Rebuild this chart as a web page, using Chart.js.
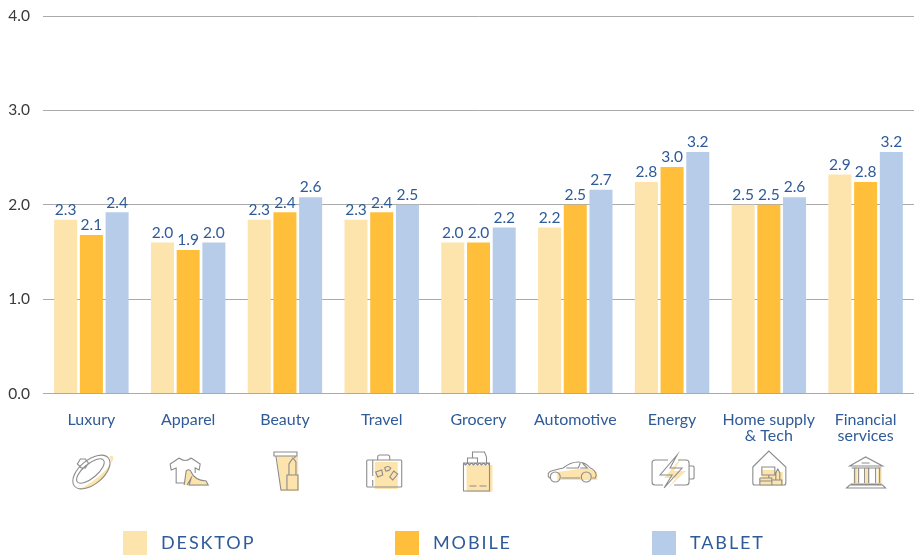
<!DOCTYPE html>
<html>
<head>
<meta charset="utf-8">
<style>
  html, body { margin: 0; padding: 0; background: #fff; }
  canvas { display: block; }
</style>
<script src="https://cdn.jsdelivr.net/npm/chart.js@4/dist/chart.umd.min.js"></script>
</head>
<body>
<canvas id="devicesChart" width="914" height="555"></canvas>
<script>
var categories = ['Luxury', 'Apparel', 'Beauty', 'Travel', 'Grocery', 'Automotive', 'Energy', ['Home supply', '& Tech'], ['Financial', 'services']];
var desktopValues = [2.3, 2.0, 2.3, 2.3, 2.0, 2.2, 2.8, 2.5, 2.9];
var mobileValues = [2.1, 1.9, 2.4, 2.4, 2.0, 2.5, 3.0, 2.5, 2.8];
var tabletValues = [2.4, 2.0, 2.6, 2.5, 2.2, 2.7, 3.2, 2.6, 3.2];
var tickLabels = ['0.0', '1.0', '2.0', '3.0', '4.0'];

var fontName = 'Lato, "Open Sans", sans-serif';
var blue = '#2f5b98';
var patchColor = '#fde3ac';
var lineColor = '#8c8c8c';

// little pictograms under the axis, [highlight path, outline path] around (0,0)
var icons = [
  ['M-13 17A24 15-40 0 0 18-16A20 5-40 0 1-13 17Z',
   'M-17 14A22 12-40 1 1 17-14 22 12-40 1 1-17 14ZM-14 10A17 7-40 1 1 12-12 17 7-40 1 1-14 10ZM-10-4L-14-8-11-13-6-13-3-9-6-4Z'],
  ['M-4 12L-2-1Q1-4 3 0 6 8 18 9L21 14 1 14Z',
   'M-9-14L-18-8-17-2-12-4-12 11-4 11M3-14L12-8 11-2 7-4 7 1M-9-14Q-3-9 3-14M-4 13L-2-1Q1-4 3 0 6 8 18 9L20 13 1 13 3 6-1 13'],
  ['M-8-16L13-16 14 19-4 19Z',
   'M-11-20L12-20 12-16-11-16ZM-9-16L-4 18 2 18M10-16L10-14M2 18L13 18 13 3 2 3ZM4 3L4-8 8-14 11-10 11 3'],
  ['M-7-10L16-10 16 17-7 17Z',
   'M-14-12L19-12Q20-12 20-11L20 14Q20 15 19 15L-14 15Q-15 15-15 14L-15-11Q-15-12-14-12ZM-4-12L-4-15Q-4-17-2-17L6-17Q8-17 8-15L8-12M-9-12L-9 4M-9 8L-9 14M-6 0L0-2 1 3-4 5ZM3-4Q6-7 9-4 8-1 4-1ZM8 5L12-1 16 2 11 8Z'],
  ['M-12-7L14-7 14 20-12 20Z',
   'M-15-9L11-9 11 19-15 19ZM-11-9L-11-14-1-14-1-9M-6-14L-6-20 6-20 8-15 8-9M-15-9L-13-7-11-9-9-7-7-9-5-7-3-9-1-7 1-9 3-7 5-9 7-7 9-9 11-7M-9 14L-2 14M1 14L8 14'],
  ['M-18 0L12-4 22 0 22 8-18 8Z',
   'M-26 6Q-29 1-24-1-17-3-12-4-5-10 3-10 10-10 15-4 20-2 21 3L20 6 17 6M5 6L-14 6M-26 6L-25 6M-15 5A5 5 0 1 1-25 5 5 5 0 1 1-15 5ZM16 5A5 5 0 1 1 6 5 5 5 0 1 1 16 5ZM-9-4L3-4 5-9M5-4L12-4 7-9'],
  ['M9-14L-8 6 4 6-4 16 14-1 2-1Z',
   'M-4-12L-17-12Q-20-12-20-9L-20 10Q-20 13-17 13L-9 13M6-12L14-12Q17-12 17-9L17 10Q17 13 14 13L2 13M17-6L21-6 22-5 22 6 21 7 17 7M5-17L-12 3 0 3-8 16 10-4-2-4Z'],
  ['M-7-2L6-2 6 0 14 0 14 14-9 14-9 6-7 6Z',
   'M-16-5L0-21 17-5 17 11Q17 13 15 13L-14 13Q-16 13-16 11ZM-7-5L6-5 6 3-7 3ZM0 3L0 6M-9 6L3 6 3 13M-9 6L-9 13M-9 9L3 9M3 8L13 8 13 13M7 8L7 1 9-3 11 1 11 8'],
  ['M-12-5L-8-5-8 11-12 11ZM0-5L4-5 4 11 0 11ZM12-5L16-5 16 11 12 11Z',
   'M-16-6L0-15 17-6ZM-14-4L15-4M-11-4L-11 11M-7-4L-7 11M-1-4L-1 11M3-4L3 11M10-4L10 11M14-4L14 11M-15 12L16 12M-19 16L-16 13 17 13 20 16ZM-4-9L4-9']
];

var iconsPlugin = {
  id: 'icons',
  afterDraw: function(chart) {
    var ctx = chart.ctx;
    var xScale = chart.scales.x;
    icons.forEach(function(icon, i) {
      ctx.save();
      ctx.translate(xScale.getPixelForTick(i), 472);
      ctx.fillStyle = patchColor;
      ctx.fill(new Path2D(icon[0]));
      ctx.strokeStyle = lineColor;
      ctx.lineWidth = 1.1;
      ctx.stroke(new Path2D(icon[1]));
      ctx.restore();
    });
  }
};

// value labels above the bars
var valueLabels = {
  id: 'valueLabels',
  afterDatasetsDraw: function(chart) {
    var ctx = chart.ctx;
    ctx.save();
    ctx.font = '15.5px ' + fontName;
    ctx.fillStyle = blue;
    ctx.textAlign = 'center';
    ctx.textBaseline = 'bottom';
    chart.data.datasets.forEach(function(ds, d) {
      chart.getDatasetMeta(d).data.forEach(function(bar, i) {
        ctx.fillText(ds.data[i].toFixed(1), bar.x, bar.y - 2);
      });
    });
    ctx.restore();
  }
};

// legend is spaced unevenly in the original so it's drawn by hand
var legendX = [123, 395, 652];
var bottomLegend = {
  id: 'bottomLegend',
  afterDraw: function(chart) {
    var ctx = chart.ctx;
    ctx.save();
    ctx.font = '18px ' + fontName;
    ctx.letterSpacing = '1.9px';
    ctx.textBaseline = 'middle';
    chart.data.datasets.forEach(function(ds, d) {
      ctx.fillStyle = ds.backgroundColor;
      ctx.fillRect(legendX[d], 531, 24, 24);
      ctx.fillStyle = blue;
      ctx.fillText(ds.label, legendX[d] + 38, 543);
    });
    ctx.restore();
  }
};

new Chart(document.getElementById('devicesChart'), {
  type: 'bar',
  data: {
    labels: categories,
    datasets: [
      { label: 'DESKTOP', data: desktopValues, backgroundColor: patchColor },
      { label: 'MOBILE', data: mobileValues, backgroundColor: '#ffbf3a' },
      { label: 'TABLET', data: tabletValues, backgroundColor: '#b7cce8' }
    ]
  },
  options: {
    responsive: false,
    animation: false,
    categoryPercentage: 0.797,
    barPercentage: 0.895,
    plugins: { legend: { display: false }, tooltip: { enabled: false } },
    scales: {
      x: {
        grid: { display: false },
        border: { display: false },
        afterFit: function(scale) { scale.height = 161.5; },
        ticks: {
          padding: 10,
          maxRotation: 0,
          autoSkip: false,
          color: blue,
          font: { family: fontName, size: 16, lineHeight: 1 }
        }
      },
      y: {
        min: 0,
        max: 5,
        grid: { color: '#aaaaaa', drawTicks: false },
        border: { display: false },
        // tick padding would otherwise push the top gridline down
        afterFit: function(scale) { scale.width = 43; scale.paddingTop = 16; },
        ticks: {
          stepSize: 1.25,
          padding: 13,
          color: '#3a3a3a',
          font: { family: fontName, size: 15.5 },
          callback: function(value, index) { return tickLabels[index]; }
        }
      }
    }
  },
  plugins: [iconsPlugin, valueLabels, bottomLegend]
});
</script>
</body>
</html>
